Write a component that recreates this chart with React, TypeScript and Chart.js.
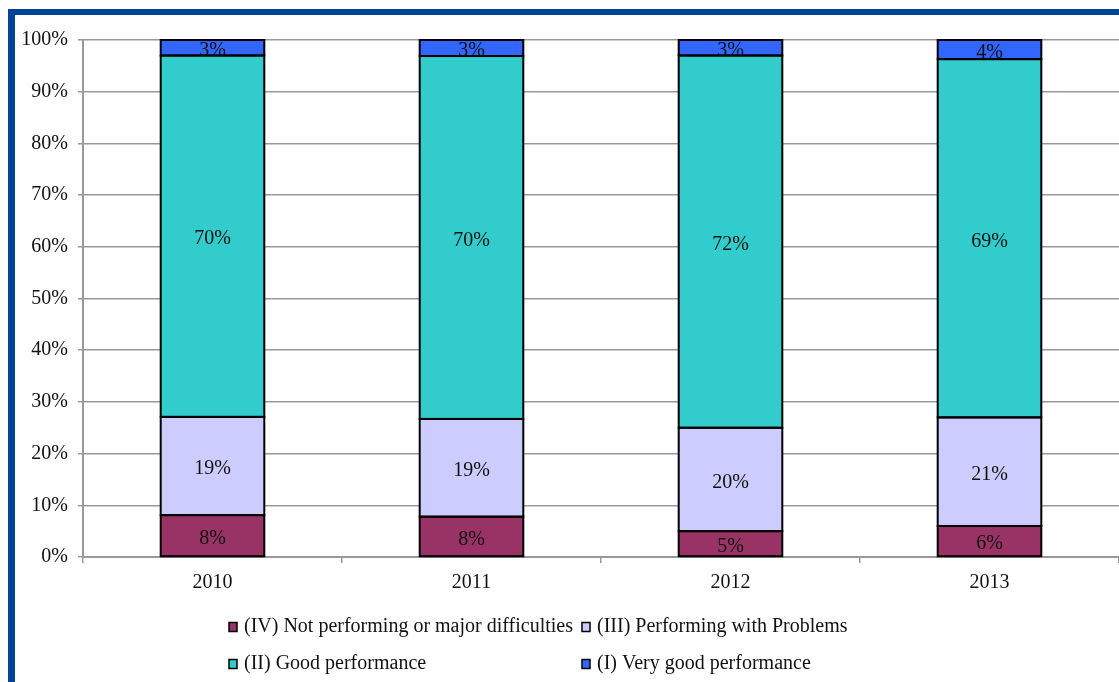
import React, { useEffect, useRef } from "react";
import { Chart, registerables } from "chart.js";

Chart.register(...registerables);

const categories = ["2010", "2011", "2012", "2013"];
const seriesNames = [
  "(IV) Not performing or major difficulties",
  "(III) Performing with Problems",
  "(II) Good performance",
  "(I) Very good performance",
];
const notPerforming = [8.1, 7.8, 5.0, 6.0];
const withProblems = [19.0, 18.9, 20.0, 21.0];
const goodPerformance = [69.9, 70.2, 72.0, 69.3];
const veryGood = [3.0, 3.1, 3.0, 3.7];
const seriesColors = ["#993366", "#CCCCFF", "#33CCCC", "#3366FF"];
const yTicks = [0, 10, 20, 30, 40, 50, 60, 70, 80, 90, 100];

const FONT = '"Liberation Serif", "Times New Roman", serif';

const barOutlinesAndLabels = {
  id: "barOutlinesAndLabels",
  afterDatasetsDraw(chart: any) {
    const ctx = chart.ctx;
    ctx.save();
    ctx.strokeStyle = "#000";
    ctx.lineWidth = 2;
    chart.data.datasets.forEach((_ds: any, di: number) => {
      const meta = chart.getDatasetMeta(di);
      meta.data.forEach((bar: any) => {
        const half = bar.width / 2;
        const top = Math.min(bar.y, bar.base);
        const h = Math.abs(bar.base - bar.y);
        ctx.strokeRect(bar.x - half, top, bar.width, h);
      });
    });
    ctx.font = `20px ${FONT}`;
    ctx.fillStyle = "#111";
    ctx.textAlign = "center";
    ctx.textBaseline = "middle";
    chart.data.datasets.forEach((ds: any, di: number) => {
      const meta = chart.getDatasetMeta(di);
      meta.data.forEach((bar: any, i: number) => {
        const v = ds.data[i];
        const y = (bar.y + bar.base) / 2;
        ctx.fillText(Math.round(v) + "%", bar.x, y + 3);
      });
    });
    ctx.restore();
  },
};

const customLegend = {
  id: "customLegend",
  afterDraw(chart: any) {
    const ctx = chart.ctx;
    const cols = [229, 582];
    const rows = [627, 664];
    ctx.save();
    ctx.font = `20px ${FONT}`;
    ctx.textBaseline = "middle";
    ctx.textAlign = "left";
    chart.data.datasets.forEach((ds: any, i: number) => {
      const x = cols[i % 2];
      const y = rows[Math.floor(i / 2)];
      ctx.fillStyle = ds.backgroundColor;
      ctx.fillRect(x, y - 4.5, 8, 9);
      ctx.strokeStyle = "#000";
      ctx.lineWidth = 1.5;
      ctx.strokeRect(x, y - 4.5, 8, 9);
      ctx.fillStyle = "#111";
      ctx.fillText(ds.label, x + 15, y);
    });
    ctx.restore();
  },
};

export default function App() {
  const ref = useRef<HTMLCanvasElement>(null);
  useEffect(() => {
    if (!ref.current) return;
    const seriesValues = [notPerforming, withProblems, goodPerformance, veryGood];
    const chart = new Chart(ref.current, {
      type: "bar",
      data: {
        labels: categories,
        datasets: seriesValues.map((vals, i) => ({
          label: seriesNames[i],
          data: vals,
          backgroundColor: seriesColors[i],
          borderWidth: 0,
          categoryPercentage: 1,
          barPercentage: 0.4,
        })),
      },
      options: {
        responsive: false,
        animation: false,
        devicePixelRatio: 1,
        layout: { padding: { top: 40, left: 0, right: 0, bottom: 0 } },
        plugins: {
          legend: { display: false },
          tooltip: { enabled: false },
        },
        scales: {
          x: {
            stacked: true,
            afterFit: (s: any) => {
              s.height = 125;
            },
            grid: {
              drawOnChartArea: false,
              drawTicks: true,
              tickLength: 6,
              color: "#999",
              lineWidth: 1.5,
            },
            border: { color: "#999", width: 2 },
            ticks: {
              font: { family: FONT, size: 20 },
              color: "#111",
              padding: 8,
            },
          },
          y: {
            stacked: true,
            min: 0,
            max: 100,
            afterFit: (s: any) => {
              s.width = 83;
            },
            afterBuildTicks: (s: any) => {
              s.ticks = yTicks.map((v) => ({ value: v }));
            },
            grid: {
              color: "#999",
              lineWidth: 1.5,
              tickLength: 5,
            },
            border: { color: "#999", width: 2 },
            ticks: {
              font: { family: FONT, size: 20 },
              color: "#111",
              padding: 10,
              callback: (v: any) => v + "%",
            },
          },
        },
      },
      plugins: [barOutlinesAndLabels, customLegend],
    });
    return () => chart.destroy();
  }, []);

  return (
    <div
      style={{
        position: "fixed",
        left: 0,
        top: 0,
        width: 1119,
        height: 682,
        overflow: "hidden",
        background: "#fff",
      }}
    >
      <div
        style={{
          position: "absolute",
          left: 8,
          top: 9,
          width: 1200,
          height: 800,
          borderTop: "6px solid #00449A",
          borderLeft: "7px solid #00449A",
          boxSizing: "border-box",
        }}
      />
      <canvas
        ref={ref}
        width={1119}
        height={682}
        style={{ position: "absolute", left: 0, top: 0, width: 1119, height: 682 }}
      />
    </div>
  );
}
